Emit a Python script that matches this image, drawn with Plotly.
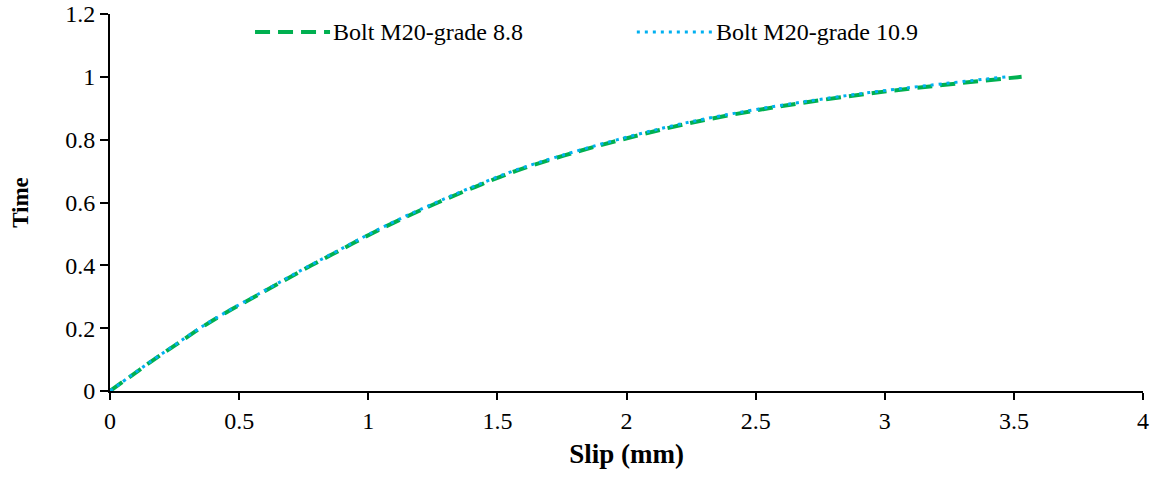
import plotly.graph_objects as go

time_88 = [0, 0.05, 0.1, 0.15, 0.2, 0.25, 0.3, 0.35, 0.4, 0.45, 0.5, 0.55, 0.6, 0.65, 0.7, 0.75, 0.8, 0.85, 0.9, 0.95, 1.0]
slip_88 = [0, 0.085, 0.17, 0.26, 0.35, 0.45, 0.56, 0.67, 0.78, 0.895, 1.01, 1.135, 1.27, 1.415, 1.57, 1.76, 1.98, 2.23, 2.55, 2.97, 3.53]

time_109 = [0, 0.05, 0.1, 0.15, 0.2, 0.25, 0.3, 0.35, 0.4, 0.45, 0.5, 0.55, 0.6, 0.65, 0.7, 0.75, 0.8, 0.85, 0.9, 0.95, 1.0]
slip_109 = [0, 0.083, 0.168, 0.257, 0.347, 0.447, 0.556, 0.665, 0.775, 0.89, 1.005, 1.128, 1.262, 1.405, 1.56, 1.75, 1.965, 2.21, 2.53, 2.94, 3.47]

series_names = ["Bolt M20-grade 8.8", "Bolt M20-grade 10.9"]

x_ticks = [0, 0.5, 1, 1.5, 2, 2.5, 3, 3.5, 4]
x_tick_labels = ["0", "0.5", "1", "1.5", "2", "2.5", "3", "3.5", "4"]
y_ticks = [0, 0.2, 0.4, 0.6, 0.8, 1.0, 1.2]
y_tick_labels = ["0", "0.2", "0.4", "0.6", "0.8", "1", "1.2"]

FONT = "Liberation Serif, Times New Roman, serif"
GREEN = "#00B050"
BLUE = "#00B0F0"
GREEN_LINE = dict(color=GREEN, width=4, dash="15px,8px")
BLUE_LINE = dict(color=BLUE, width=3, dash="3px,5px")

fig = go.Figure()
fig.add_trace(go.Scatter(
    x=slip_88, y=time_88, mode="lines", name=series_names[0],
    line=dict(**GREEN_LINE, shape="spline"), showlegend=False,
))
fig.add_trace(go.Scatter(
    x=slip_109, y=time_109, mode="lines", name=series_names[1],
    line=dict(**BLUE_LINE, shape="spline"), showlegend=False,
))

# manual legend (sample lines + labels)
leg_y = 0.952
for (x0, x1, xt, style, name) in [
    (0.1404, 0.213, 0.2158, GREEN_LINE, series_names[0]),
    (0.510, 0.583, 0.587, BLUE_LINE, series_names[1]),
]:
    fig.add_shape(type="line", xref="paper", yref="paper", x0=x0, x1=x1, y0=leg_y, y1=leg_y,
                  line=style)
    fig.add_annotation(xref="paper", yref="paper", x=xt, y=leg_y, text=name, showarrow=False,
                       xanchor="left", yanchor="middle", xshift=-2,
                       font=dict(family=FONT, size=24, color="black"))

fig.update_layout(
    width=1157, height=477,
    margin=dict(l=110, r=14, t=14, b=86),
    paper_bgcolor="white", plot_bgcolor="white",
    font=dict(family=FONT, size=24, color="black"),
    showlegend=False,
    xaxis=dict(
        range=[0, 4], tickvals=x_ticks, ticktext=x_tick_labels, automargin=False,
        showgrid=False, zeroline=False, showline=True, linecolor="black", linewidth=2,
        ticks="outside", ticklen=7, tickwidth=2, tickcolor="black",
        tickfont=dict(family=FONT, size=24),
        title=dict(text="<b>Slip (mm)</b>", font=dict(family=FONT, size=27), standoff=11),
    ),
    yaxis=dict(
        range=[0, 1.2], tickvals=y_ticks, ticktext=y_tick_labels, automargin=False,
        showgrid=False, zeroline=False, showline=True, linecolor="black", linewidth=2,
        ticks="outside", ticklen=8, tickwidth=2, tickcolor="black",
        tickfont=dict(family=FONT, size=24),
        title=dict(text="<b>Time</b>", font=dict(family=FONT, size=23), standoff=30),
    ),
)

fig.write_html("out.html", config={"displayModeBar": False},
               post_script="document.body.style.margin='0px';")
